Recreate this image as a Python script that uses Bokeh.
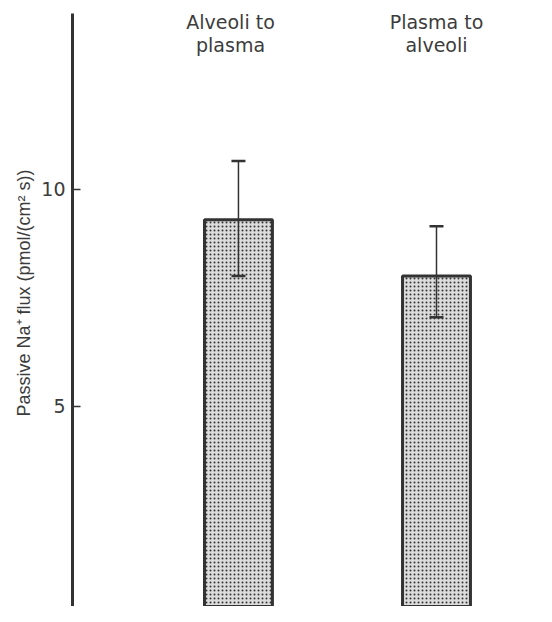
from bokeh.plotting import figure
from bokeh.models import (ColumnDataSource, LinearAxis, FixedTicker, Whisker,
                          TeeHead, Title)
from bokeh.core.properties import value
from bokeh.embed import file_html
from bokeh.resources import INLINE

# ---- data ----
categories = ["Alveoli to plasma", "Plasma to alveoli"]
label_top_line = ["Alveoli to", "Plasma to"]
label_bottom_line = ["plasma", "alveoli"]
flux_mean = [9.3, 8.0]
flux_upper = [10.65, 9.15]
flux_lower = [8.0, 7.05]
y_ticks = [5, 10]

# ---- layout constants ----
bar_x = [1, 2]
label_dx = [-0.04, 0.0]
ink = "#333333"
txt = "#3c3c3c"
font = "DejaVu Sans"

p = figure(width=536, height=606,
           x_range=(0.162, 2.505), y_range=(0.386, 14.05),
           x_axis_type=None, y_axis_type=None,
           min_border_left=72, min_border_right=0,
           min_border_top=13, min_border_bottom=0,
           toolbar_location=None, output_backend="svg")
p.outline_line_color = None
p.background_fill_color = "white"
p.border_fill_color = "white"

yaxis = LinearAxis(ticker=FixedTicker(ticks=y_ticks))
yaxis.axis_line_width = 3
yaxis.axis_line_color = ink
yaxis.major_tick_in = 8
yaxis.major_tick_out = 0
yaxis.major_tick_line_width = 1.5
yaxis.major_tick_line_color = ink
yaxis.minor_tick_line_color = None
yaxis.major_label_text_font = font
yaxis.major_label_text_font_size = "19px"
yaxis.major_label_text_color = txt
yaxis.major_label_standoff = 7
p.add_layout(yaxis, "left")

ytitle = Title(text="Passive Na\u207a flux (pmol/(cm\u00b2 s))",
               align="left", offset=190, standoff=10,
               text_font="Liberation Sans", text_font_size="18px",
               text_font_style="normal", text_color=txt)
p.add_layout(ytitle, "left")

src = ColumnDataSource(dict(x=bar_x, cat=categories, top=flux_mean,
                            upper=flux_upper, lower=flux_lower))

p.vbar(x="x", top="top", bottom=0, width=0.343, source=src,
       fill_color="#dcdcdc", line_color=ink, line_width=3,
       hatch_pattern=".", hatch_color="#333333", hatch_scale=4.0,
       hatch_weight=2.2)

w = Whisker(source=src, base="x", upper="upper", lower="lower",
            line_color=ink, line_width=1.5, level="annotation",
            upper_head=TeeHead(size=14, line_width=2.5, line_color=ink),
            lower_head=TeeHead(size=14, line_width=2.5, line_color=ink))
p.add_layout(w)

lx = [b + d for b, d in zip(bar_x, label_dx)]
lsrc = ColumnDataSource(dict(x=lx, t1=label_top_line, t2=label_bottom_line))
p.text(x="x", y=13.85, text="t1", source=lsrc, text_align="center",
       text_baseline="alphabetic", text_font=value(font),
       text_font_size="19px", text_color=txt)
p.text(x="x", y=13.32, text="t2", source=lsrc, text_align="center",
       text_baseline="alphabetic", text_font=value(font),
       text_font_size="19px", text_color=txt)

open("out.html", "w").write(file_html(p, INLINE))
